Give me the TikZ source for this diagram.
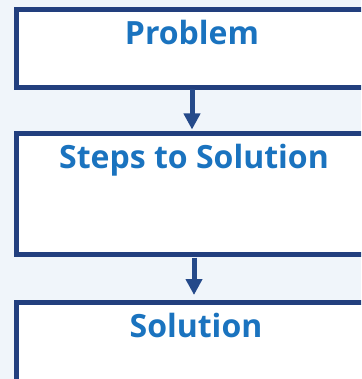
\documentclass[tikz,border=0pt]{standalone}
\usepackage{fontspec}
\setmainfont{Open Sans}
\usetikzlibrary{arrows.meta}
\definecolor{bgc}{HTML}{F0F5FA}
\definecolor{navy}{HTML}{223F7E}
\definecolor{txtblue}{HTML}{1A73BF}
\definecolor{arrc}{HTML}{254A8A}
\tikzset{
  box/.style={draw=navy, line width=5pt, fill=white, outer sep=0pt, inner sep=0pt,
    anchor=north west, minimum width=362pt},
  lbl/.style={text=txtblue, font=\fontsize{32}{38}\selectfont\bfseries, anchor=base, inner sep=0pt},
  arr/.style={draw=arrc, line width=5pt, -{Triangle[width=16pt,length=16pt]}}
}
\begin{document}
\begin{tikzpicture}[x=1pt,y=1pt]
\useasboundingbox (0,0) rectangle (361,-379);
\clip (0,0) rectangle (361,-379);
\fill[bgc] (0,0) rectangle (361,-379);
\node[box, minimum height=78pt] (b1) at (16,-9.5) {};
\node[box, minimum height=120.5pt] (b2) at (16,-134) {};
\node[box, minimum height=100pt] (b3) at (16,-302) {};
\node[lbl] (t1) at (192,-45) {Problem};
\node[lbl] (t2) at (194,-168) {Steps to Solution};
\node[lbl] (t3) at (196,-337) {Solution};
\draw[arr, shorten <=2pt, shorten >=4.5pt] (b1.south -| t1) -- (b2.north -| t1);
\draw[arr, shorten <=3pt, shorten >=7pt] (b2.south -| t2) -- (b3.north -| t2);
\end{tikzpicture}
\end{document}
